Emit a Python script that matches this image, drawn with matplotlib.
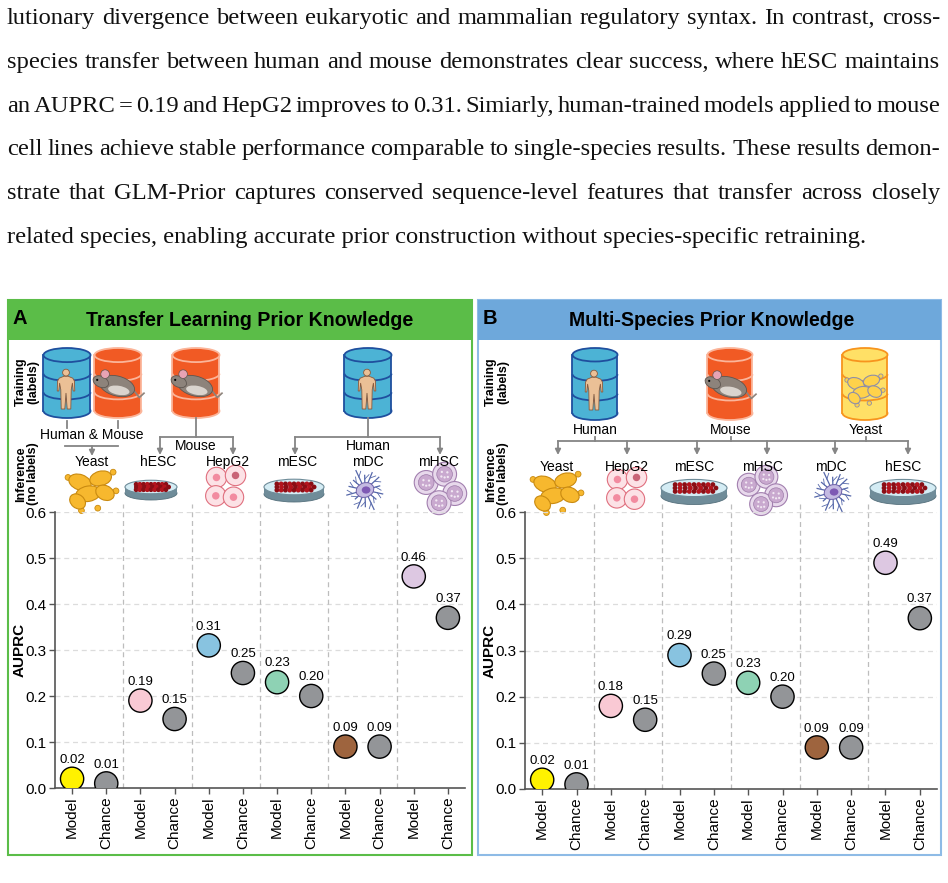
import numpy as np
import matplotlib
matplotlib.use("Agg")
import matplotlib.pyplot as plt
from matplotlib.patches import Rectangle, Ellipse, Circle, Arc, Polygon

# ---- data ----
categories = ["Model", "Chance"] * 6
a_model = [0.02, 0.19, 0.31, 0.23, 0.09, 0.46]
a_chance = [0.01, 0.15, 0.25, 0.20, 0.09, 0.37]
b_model = [0.02, 0.18, 0.29, 0.23, 0.09, 0.49]
b_chance = [0.01, 0.15, 0.25, 0.20, 0.09, 0.37]
a_targets = ["Yeast", "hESC", "HepG2", "mESC", "mDC", "mHSC"]
b_targets = ["Yeast", "HepG2", "mESC", "mHSC", "mDC", "hESC"]
b_sources = ["Human", "Mouse", "Yeast"]
yticks = [0.0, 0.1, 0.2, 0.3, 0.4, 0.5, 0.6]

paragraph = [
    "lutionary divergence between eukaryotic and mammalian regulatory syntax. In contrast, cross-",
    "species transfer between human and mouse demonstrates clear success, where hESC maintains",
    "an AUPRC = 0.19 and HepG2 improves to 0.31. Simiarly, human-trained models applied to mouse",
    "cell lines achieve stable performance comparable to single-species results. These results demon-",
    "strate that GLM-Prior captures conserved sequence-level features that transfer across closely",
    "related species, enabling accurate prior construction without species-specific retraining.",
]

model_colors = ["#FFF200", "#F9C9D4", "#88C3E0", "#8ED2B4", "#9E643E", "#DDC8E2"]
chance_color = "#939598"
GREEN = "#5BBD48"
BLUE = "#6EA8DB"
LINE = "#858585"

plt.rcParams["font.family"] = ["Liberation Sans", "DejaVu Sans"]

W, H = 948, 883
fig = plt.figure(figsize=(W / 100, H / 100), dpi=100)
bg = fig.add_axes([0, 0, 1, 1], zorder=0)
bg.set_xlim(0, W)
bg.set_ylim(H, 0)
bg.axis("off")
renderer = fig.canvas.get_renderer()


def text_width(s, **kw):
    t = bg.text(0, 0, s, **kw)
    w = t.get_window_extent(renderer).width
    t.remove()
    return w


# ---- paragraph (justified) ----
serif = dict(family="Liberation Serif", color="#111111")
base = text_width(paragraph[-1], fontsize=16, **serif)
psize = 16 * 858 / base
for i, line in enumerate(paragraph):
    y = 24 + 43.8 * i
    if i == len(paragraph) - 1:
        bg.text(7, y, line, fontsize=psize, va="baseline", ha="left", **serif)
        continue
    words = line.split(" ")
    widths = [text_width(w, fontsize=psize, **serif) for w in words]
    gap = (940 - 7 - sum(widths)) / (len(words) - 1)
    x = 7
    for w, wd in zip(words, widths):
        bg.text(x, y, w, fontsize=psize, va="baseline", ha="left", **serif)
        x += wd + gap


# ---- icon helpers ----
def cylinder(cx, top, bot, w, fill, edge, lw=1.3):
    eh = w * 0.3
    bg.add_patch(Ellipse((cx, bot - eh / 2), w, eh, facecolor=fill, edgecolor=edge, lw=lw, zorder=2))
    bg.add_patch(Rectangle((cx - w / 2, top + eh / 2), w, bot - top - eh, facecolor=fill, edgecolor="none", zorder=2.1))
    for sx in (cx - w / 2, cx + w / 2):
        bg.plot([sx, sx], [top + eh / 2, bot - eh / 2], color=edge, lw=lw, zorder=2.2)
    body = bot - top - eh
    for k in (1, 2):
        yy = top + eh / 2 + body * k / 3
        bg.add_patch(Arc((cx, yy), w, eh, theta1=0, theta2=180, color=edge, lw=lw, zorder=2.2))
    bg.add_patch(Ellipse((cx, top + eh / 2), w, eh, facecolor=fill, edgecolor=edge, lw=lw, zorder=2.3))


def human(cx, cy, h):
    pts = [(-0.05, -0.32), (0.05, -0.32), (0.17, -0.27), (0.21, -0.2), (0.22, 0.05), (0.18, 0.05),
           (0.16, -0.15), (0.13, 0.02), (0.12, 0.5), (0.03, 0.5), (0.0, 0.1), (-0.03, 0.5),
           (-0.12, 0.5), (-0.13, 0.02), (-0.16, -0.15), (-0.18, 0.05), (-0.22, 0.05),
           (-0.21, -0.2), (-0.17, -0.27)]
    bg.add_patch(Polygon([(cx + px * h, cy + py * h) for px, py in pts], closed=True,
                         facecolor="#EBC096", edgecolor="#8B5A3C", lw=0.6, zorder=2.5))
    bg.add_patch(Circle((cx, cy - 0.41 * h), 0.085 * h, facecolor="#EBC096", edgecolor="#8B5A3C",
                        lw=0.6, zorder=2.5))


def mouse(cx, cy, s):
    bg.plot([cx + 0.45 * s, cx + 0.62 * s, cx + 0.75 * s], [cy + 0.1 * s, cy + 0.32 * s, cy + 0.2 * s],
            color="#8D837B", lw=1.2, zorder=2.4)
    bg.add_patch(Ellipse((cx, cy), 1.0 * s, 0.55 * s, angle=15, facecolor="#8D837B", edgecolor="#5E5650",
                         lw=0.6, zorder=2.5))
    bg.add_patch(Ellipse((cx + 0.05 * s, cy + 0.12 * s), 0.6 * s, 0.25 * s, angle=10, facecolor="#DAD4CE",
                         edgecolor="none", zorder=2.6))
    bg.add_patch(Ellipse((cx - 0.45 * s, cy - 0.12 * s), 0.45 * s, 0.3 * s, angle=25, facecolor="#8D837B",
                         edgecolor="#5E5650", lw=0.6, zorder=2.6))
    bg.add_patch(Circle((cx - 0.33 * s, cy - 0.33 * s), 0.12 * s, facecolor="#E7A3B4", edgecolor="#5E5650",
                        lw=0.5, zorder=2.7))
    bg.add_patch(Circle((cx - 0.55 * s, cy - 0.17 * s), 0.03 * s, facecolor="black", zorder=2.8))


def yeast(cx, cy, w, fill="#F7B82E", edge="#C98A10", z=2.5):
    blobs = [(-0.25, -0.12, 0.48, 0.32, 20), (0.18, -0.2, 0.46, 0.3, -15), (-0.08, 0.12, 0.52, 0.32, -10),
             (0.27, 0.1, 0.4, 0.3, 25), (-0.3, 0.28, 0.36, 0.28, 40)]
    buds = [(-0.5, -0.22), (0.44, -0.33), (0.5, 0.06), (-0.22, 0.47), (0.12, 0.42)]
    for bx, by in buds:
        bg.add_patch(Circle((cx + bx * w, cy + by * w), 0.06 * w, facecolor=fill, edgecolor=edge, lw=0.6, zorder=z))
    for bx, by, ew, eh, ang in blobs:
        bg.add_patch(Ellipse((cx + bx * w, cy + by * w), ew * w, eh * w, angle=ang, facecolor=fill,
                             edgecolor=edge, lw=0.8, zorder=z + 0.1))


def dish(cx, cy, w):
    eh = 0.26 * w
    bg.add_patch(Ellipse((cx, cy + 0.12 * w), w, eh, facecolor="#6F8C99", edgecolor="#55707C", lw=0.6, zorder=2.4))
    bg.add_patch(Rectangle((cx - w / 2, cy), w, 0.12 * w, facecolor="#6F8C99", edgecolor="none", zorder=2.45))
    bg.add_patch(Ellipse((cx, cy), w, eh, facecolor="#D4ECF4", edgecolor="#6F8C99", lw=0.8, zorder=2.5))
    for r, frac in enumerate([-0.25, 0.0, 0.25]):
        yy = cy + frac * eh * 0.8
        span = 0.62 * w * np.sqrt(1 - (frac / 0.5) ** 2 * 0.6)
        n = 9
        for k in range(n):
            xx = cx - span / 2 + span * k / (n - 1) + (r % 2) * 1.5
            bg.add_patch(Circle((xx, yy), 2.4, facecolor="#B3141D" if k % 2 else "#8A0E15",
                                edgecolor="none", zorder=2.6))


def hepg2(cx, cy, s):
    cells = [(-0.28, -0.28, "#F28BA0"), (0.28, -0.34, "#C96477"), (-0.3, 0.26, "#F28BA0"), (0.22, 0.3, "#F28BA0")]
    for px, py, nc in cells:
        bg.add_patch(Circle((cx + px * s, cy + py * s), 0.3 * s, facecolor="#FCE2E6", edgecolor="#E0707F",
                            lw=0.8, zorder=2.5))
        bg.add_patch(Circle((cx + px * s, cy + py * s), 0.11 * s, facecolor=nc, edgecolor="none", zorder=2.6))


def mhsc(cx, cy, s):
    cells = [(-0.3, -0.12), (0.1, -0.3), (0.32, 0.12), (-0.02, 0.32)]
    for px, py in cells:
        bg.add_patch(Circle((cx + px * s, cy + py * s), 0.26 * s, facecolor="#E8D9EC", edgecolor="#A27FAF",
                            lw=0.8, zorder=2.5))
        bg.add_patch(Circle((cx + px * s, cy + py * s), 0.17 * s, facecolor="#C9A9CF", edgecolor="#9E7CAA",
                            lw=0.5, zorder=2.6))
        for dx, dy in [(-0.06, -0.05), (0.06, -0.04), (0.0, 0.07), (-0.07, 0.05), (0.07, 0.06)]:
            bg.add_patch(Circle((cx + (px + dx) * s, cy + (py + dy) * s), 0.025 * s, facecolor="#F2E8F3",
                                edgecolor="none", zorder=2.7))


def mdc(cx, cy, s):
    lens = [0.5, 0.38, 0.55, 0.42, 0.5, 0.35, 0.52, 0.45, 0.4, 0.55, 0.37, 0.48, 0.5, 0.42]
    for k, L in enumerate(lens):
        a = 2 * np.pi * k / len(lens) + 0.2
        x2, y2 = cx + np.cos(a) * L * s, cy + np.sin(a) * L * s * 1.1
        bg.plot([cx, x2], [cy, y2], color="#5668AA", lw=0.9, zorder=2.4)
        b = a + 0.5
        bg.plot([(cx + x2) / 2 + np.cos(a) * 0.1 * s, (cx + x2) / 2 + np.cos(b) * 0.25 * s],
                [(cy + y2) / 2 + np.sin(a) * 0.1 * s, (cy + y2) / 2 + np.sin(b) * 0.25 * s],
                color="#5668AA", lw=0.6, zorder=2.4)
    bg.add_patch(Ellipse((cx, cy), 0.5 * s, 0.4 * s, angle=-20, facecolor="#C4BAE2", edgecolor="#6E60A8",
                         lw=0.7, zorder=2.5))
    bg.add_patch(Ellipse((cx + 0.03 * s, cy), 0.24 * s, 0.2 * s, facecolor="#7E59B4", edgecolor="none", zorder=2.6))


def arrow(x, y1, y2):
    bg.annotate("", xy=(x, y2), xytext=(x, y1),
                arrowprops=dict(arrowstyle="-|>", color=LINE, lw=1.3, mutation_scale=8, shrinkA=0, shrinkB=0),
                zorder=2)


def hline(x1, x2, y):
    bg.plot([x1, x2], [y, y], color=LINE, lw=1.3, zorder=2)


def vline(x, y1, y2):
    bg.plot([x, x], [y1, y2], color=LINE, lw=1.3, zorder=2)


def fit_size(s, target, **kw):
    return 13 * target / text_width(s, fontsize=13, **kw)


# ---- panel frames ----
for x0, x1, col, edge, letter, title, tw, tx in [
        (8, 472, GREEN, GREEN, "A", "Transfer Learning Prior Knowledge", 326, 250),
        (478, 941, BLUE, "#8EBBE6", "B", "Multi-Species Prior Knowledge", 286, 712)]:
    bg.add_patch(Rectangle((x0, 300), x1 - x0, 555, facecolor="white", edgecolor=edge, lw=1.5, zorder=0.5))
    bg.add_patch(Rectangle((x0, 300), x1 - x0, 40, facecolor=col, edgecolor="none", zorder=0.6))
    bg.text(x0 + 5, 318, letter, fontsize=14.5, fontweight="bold", ha="left", va="center", zorder=3)
    fs = fit_size(title, tw, fontweight="bold")
    bg.text(tx, 321, title, fontsize=fs, fontweight="bold", ha="center", va="center", zorder=3)
    sx = x0 + 19
    bg.text(sx, 382, "Training\n(labels)", fontsize=9, fontweight="bold", rotation=90, ha="center",
            va="center", linespacing=1.0, zorder=3)
    bg.text(sx, 474, "Inference\n(no labels)", fontsize=9, fontweight="bold", rotation=90, ha="center",
            va="center", linespacing=1.0, zorder=3)

lab = dict(fontsize=10, ha="center", va="center", zorder=3)

# ---- panel A schematic ----
cylinder(67, 348, 418, 47, "#4CB3D5", "#1F4F9E")
human(66, 389, 40)
cylinder(118, 348, 418, 47, "#F15A24", "#FBB59A")
mouse(117, 386, 36)
cylinder(196, 348, 418, 47, "#F15A24", "#FBB59A")
mouse(195, 386, 36)
cylinder(368, 348, 418, 47, "#4CB3D5", "#1F4F9E")
human(367, 389, 40)

vline(67, 421, 428)
vline(118, 421, 428)
bg.text(92, 435, "Human & Mouse", **lab)
hline(65, 118, 446)
arrow(92, 446, 456)
vline(196, 418, 437)
hline(160, 233, 437)
arrow(160, 437, 455)
arrow(233, 437, 455)
bg.text(196, 446, "Mouse", **lab)
vline(368, 418, 437)
hline(295, 440, 437)
arrow(295, 437, 455)
arrow(440, 437, 455)
bg.text(368, 446, "Human", **lab)

a_label_x = [92, 158, 228, 297, 368, 438]
for x, name in zip(a_label_x, a_targets):
    bg.text(x, 462, name, **lab)
yeast(92, 488, 48)
dish(151, 487, 52)
hepg2(226, 487, 34)
dish(294, 487, 60)
mdc(365, 490, 36)
mhsc(440, 488, 46)

# ---- panel B schematic ----
cylinder(595, 348, 420, 45, "#4CB3D5", "#1F4F9E")
human(594, 390, 40)
cylinder(730, 348, 420, 45, "#F15A24", "#FBB59A")
mouse(729, 387, 36)
cylinder(865, 348, 420, 45, "#FFE066", "#F7941D")
yeast(865, 388, 36, fill="#FFD24A", edge="#8E8EA8", z=2.5)

for x, name in zip([595, 731, 866], b_sources):
    bg.text(x, 430, name, **lab)
    vline(x, 437, 441)
hline(558, 908, 441)
b_arrow_x = [558, 627, 697, 767, 835, 908]
for x in b_arrow_x:
    arrow(x, 441, 455)
b_label_x = [557, 627, 694, 762, 831, 903]
for x, name in zip(b_label_x, b_targets):
    bg.text(x, 467, name, **lab)
yeast(557, 490, 48)
hepg2(627, 489, 34)
dish(694, 488, 66)
mhsc(762, 490, 44)
mdc(833, 492, 36)
dish(903, 488, 66)


# ---- charts ----
def draw_chart(rect, model, chance):
    ax = fig.add_axes(rect, zorder=2)
    ax.set_facecolor("none")
    xs = np.arange(len(categories))
    vals = np.ravel(np.column_stack([model, chance]))
    cols = []
    for c in model_colors:
        cols += [c, chance_color]
    ax.set_xlim(-0.5, len(categories) - 0.5)
    ax.set_ylim(yticks[0], yticks[-1])
    for y in yticks[1:]:
        ax.axhline(y, color="#DCDCDC", lw=0.9, ls=(0, (4, 3)), zorder=1)
    for x in np.arange(1.5, len(categories) - 1, 2):
        ax.axvline(x, ymin=0, ymax=1.03, color="#BDBDBD", lw=0.9, ls=(0, (4, 3)), zorder=1, clip_on=False)
    ax.scatter(xs, vals, s=280, c=cols, edgecolors="black", linewidths=1.0, zorder=3)
    for x, v in zip(xs, vals):
        ax.annotate(f"{v:.2f}", (x, v), xytext=(0, 13.5), textcoords="offset points", ha="center",
                    va="center", fontsize=9.5, zorder=4)
    ax.set_xticks(xs)
    ax.set_xticklabels(categories, rotation=90, fontsize=11)
    ax.set_yticks(yticks)
    ax.set_yticklabels([f"{y:.1f}" for y in yticks], fontsize=11)
    ax.set_ylabel("AUPRC", fontsize=11, fontweight="bold")
    ax.yaxis.set_label_coords(-28 / rect[2] / W, 0.5)
    for side in ("top", "right"):
        ax.spines[side].set_visible(False)
    for side in ("left", "bottom"):
        ax.spines[side].set_color("#555555")
        ax.spines[side].set_linewidth(1.2)
    ax.tick_params(axis="both", colors="#555555", labelcolor="black", length=4, width=1, pad=2)
    return ax


draw_chart([55 / W, 1 - 788 / H, 410 / W, 276 / H], a_model, a_chance)
draw_chart([525 / W, 1 - 789 / H, 412 / W, 277 / H], b_model, b_chance)

fig.savefig("out.png", dpi=100)
